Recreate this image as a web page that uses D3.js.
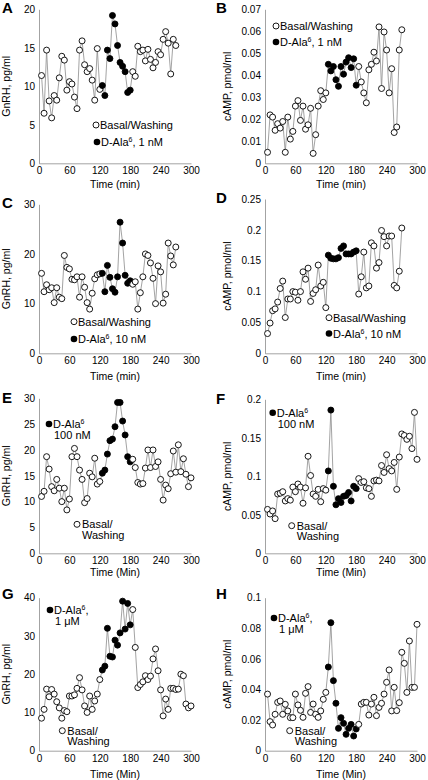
<!DOCTYPE html>
<html><head><meta charset="utf-8">
<script src="https://cdn.jsdelivr.net/npm/d3@7"></script>
<style>body{margin:0;background:#fff} svg{display:block;font-family:"Liberation Sans",Arial,sans-serif}</style>
</head><body><svg id="c" width="428" height="780"></svg>
<script>
// ---------- data ----------
const timeTicks = [0, 60, 120, 180, 240, 300];
const treatStart = 125, treatEnd = 180;     // D-Ala6 exposure window (min)
const timesShort = d3.range(5, 275, 5);     // sampling every 5 min, 5..270
const timesLong  = d3.range(5, 305, 5);     // sampling every 5 min, 5..300

const gnrhA = [11.4, 6.5, 14.7, 8.1, 5.9, 8.8, 8.2, 11.1, 13.9, 13.4, 9.5, 10.6, 10.3, 8.6, 7.1, 14.7, 15.9, 12.8, 11.9, 12.3, 10.8, 8.2, 14.9, 9.6,
  10.1, 8.8, 14.7, 13.6, 19.2, 18.1, 15.3, 13.1, 12.6, 11.9, 9.2, 9.5,
  11.9, 11.3, 15.2, 14.5, 14.7, 13.3, 14.8, 13.5, 12.4, 13.1, 14.5, 14.1, 16.1, 17.1, 15.6, 11.6, 16.1, 15.3];
const campB = [0.005, 0.022, 0.021, 0.015, 0.018, 0.016, 0.019, 0.005, 0.021, 0.011, 0.0145, 0.026, 0.0285, 0.0195, 0.026, 0.0155, 0.0175, 0.025, 0.0045, 0.013, 0.026, 0.033, 0.029, 0.032,
  0.045, 0.042, 0.044, 0.038, 0.035, 0.044, 0.0405, 0.046, 0.048, 0.0435, 0.0475, 0.0355,
  0.044, 0.037, 0.032, 0.0275, 0.0425, 0.045, 0.0505, 0.0465, 0.062, 0.034, 0.0597, 0.0515, 0.032, 0.043, 0.014, 0.0165, 0.0515, 0.0607];
const gnrhC = [16.1, 12.4, 13.8, 12.8, 13.2, 10.2, 13.2, 11.3, 11.0, 19.7, 17.3, 17.0, 14.9, 14.8, 15.4, 11.3, 15.4, 13.3, 10.2, 8.9, 12.1, 15.0, 15.8, 16.0,
  16.1, 12.4, 17.7, 15.3, 13.0, 12.3, 15.4, 26.4, 22.2, 15.7, 14.1, 14.6,
  13.9, 14.4, 8.9, 12.2, 15.4, 20.0, 19.7, 18.2, 15.1, 10.0, 17.6, 16.4, 10.1, 11.9, 22.2, 19.6, 17.8, 21.4];
const campD = [0.032, 0.049, 0.069, 0.072, 0.083, 0.105, 0.117, 0.058, 0.088, 0.088, 0.1, 0.099, 0.086, 0.1, 0.132, 0.12, 0.138, 0.084, 0.097, 0.103, 0.143, 0.109, 0.115, 0.074,
  0.159, 0.154, 0.153, 0.153, 0.155, 0.17, 0.174, 0.161, 0.161, 0.161, 0.164, 0.166,
  0.096, 0.124, 0.164, 0.106, 0.109, 0.179, 0.174, 0.138, 0.147, 0.199, 0.189, 0.174, 0.19, 0.19, 0.11, 0.106, 0.133, 0.203];
const gnrhE = [11.0, 12.0, 18.7, 16.3, 12.9, 12.1, 14.3, 12.6, 10.0, 12.6, 8.4, 10.5, 18.7, 20.3, 18.7, 16.1, 14.3, 9.8, 10.6, 15.5, 14.8, 18.4, 13.4, 13.9,
  15.5, 16.1, 19.2, 21.8, 22.1, 24.5, 29.2, 29.2, 25.6, 22.9, 18.7, 17.7,
  18.2, 16.6, 13.7, 13.4, 13.5, 16.5, 20.0, 16.6, 20.0, 16.8, 17.7, 14.3, 10.3, 13.2, 12.5, 15.4, 19.8, 15.7, 21.0, 15.8, 18.3, 15.3, 12.9, 14.6];
const campF = [0.057, 0.051, 0.055, 0.045, 0.077, 0.078, 0.080, 0.068, 0.071, 0.069, 0.086, 0.080, 0.090, 0.086, 0.065, 0.085, 0.126, 0.101, 0.077, 0.074, 0.083, 0.067, 0.084, 0.082,
  0.107, 0.186, 0.087, 0.063, 0.071, 0.066, 0.074, 0.075, 0.079, 0.068, 0.087, 0.084,
  0.097, 0.092, 0.093, 0.085, 0.084, 0.074, 0.094, 0.095, 0.094, 0.114, 0.105, 0.128, 0.110, 0.107, 0.118, 0.083, 0.125, 0.155, 0.153, 0.148, 0.152, 0.136, 0.183, 0.122];
const gnrhG = [8.5, 10.8, 16.1, 14.1, 16.0, 14.8, 12.8, 11.2, 8.5, 10.5, 10.2, 14.3, 14.3, 14.6, 16.3, 19.1, 15.9, 11.7, 10.0, 14.3, 10.8, 13.0, 14.8, 18.6,
  21.1, 22.1, 32.0, 24.7, 24.5, 28.9, 27.6, 30.8, 39.1, 31.8, 38.5, 32.9,
  36.9, 27.0, 16.5, 17.3, 18.0, 19.6, 18.6, 19.5, 24.0, 26.6, 20.9, 15.9, 9.1, 13.5, 10.8, 16.3, 16.3, 16.0, 16.1, 20.0, 19.6, 12.2, 11.2, 11.7];
const campH = [0.037, 0.019, 0.0168, 0.0238, 0.0316, 0.0325, 0.0238, 0.0303, 0.026, 0.0216, 0.0216, 0.037, 0.0299, 0.0264, 0.0218, 0.0375, 0.0419, 0.025, 0.0305, 0.0238, 0.0218, 0.026, 0.0336, 0.0381,
  0.0547, 0.0837, 0.0458, 0.031, 0.0146, 0.0216, 0.0179, 0.0107, 0.0146, 0.0172, 0.0096, 0.0142,
  0.0172, 0.0305, 0.0316, 0.0316, 0.0233, 0.0305, 0.0349, 0.0229, 0.0283, 0.031, 0.037, 0.0447, 0.0528, 0.026, 0.0414, 0.0262, 0.0314, 0.0643, 0.0571, 0.0381, 0.0717, 0.0414, 0.0414, 0.0826];

const ticksA = [0, 5, 10, 15, 20];
const ticksB = [0, 0.01, 0.02, 0.03, 0.04, 0.05, 0.06, 0.07];
const ticksC = [0, 10, 20, 30];
const ticksD = [0, 0.05, 0.1, 0.15, 0.2, 0.25];
const ticksE = [0, 5, 10, 15, 20, 25, 30];
const ticksF = [0, 0.05, 0.1, 0.15, 0.2];
const ticksG = [0, 10, 20, 30, 40];
const ticksH = [0, 0.02, 0.04, 0.06, 0.08, 0.1];

const doses = ["1 nM", "1 nM", "10 nM", "10 nM", "100 nM", "100 nM", "1 \u03bcM", "1 \u03bcM"];

// ---------- layout ----------
const cols = [[39, 191], [265, 417]];
const panels = [
  {id:"A", vals:gnrhA, t:timesShort, ticks:ticksA, yTitle:"GnRH, pg/ml", xTitle:"Time (min)", col:0, top:9.3, bot:163.3, lx:6, xty:188, leg:{kind:"row", o:[96,125], f:[97,142]}},
  {id:"B", vals:campB, t:timesShort, ticks:ticksB, yTitle:"cAMP, pmol/ml", xTitle:"Time (min)", col:1, top:9.3, bot:163.3, lx:227, xty:188, leg:{kind:"row", o:[276,26], f:[276,42]}},
  {id:"C", vals:gnrhC, t:timesShort, ticks:ticksC, yTitle:"GnRH, pg/ml", xTitle:"Time (min)", col:0, top:204.3, bot:353.3, lx:6, xty:380, leg:{kind:"row", o:[74,321.7], f:[74,339]}},
  {id:"D", vals:campD, t:timesShort, ticks:ticksD, yTitle:"cAMP, pmol/ml", xTitle:"Time (min)", col:1, top:199, bot:353.3, lx:227, xty:380, leg:{kind:"row", o:[329,317.7], f:[329,333.5]}},
  {id:"E", vals:gnrhE, t:timesLong, ticks:ticksE, yTitle:"GnRH, pg/ml", xTitle:"Time (Min)", col:0, top:398.3, bot:553.3, lx:6, xty:576, leg:{kind:"stack", o:[77,524.3], f:[49,424]}},
  {id:"F", vals:campF, t:timesLong, ticks:ticksF, yTitle:"cAMP, pmol/ml", xTitle:"Time (Min)", col:1, top:399.3, bot:553.3, lx:227, xty:576, leg:{kind:"stack", o:[291.7,525.7], f:[272.7,412.7]}},
  {id:"G", vals:gnrhG, t:timesLong, ticks:ticksG, yTitle:"GnRH, pg/ml", xTitle:"Time (Min)", col:0, top:597.7, bot:750.7, lx:6, xty:778, leg:{kind:"stack", o:[62.3,730.7], f:[50,610]}},
  {id:"H", vals:campH, t:timesLong, ticks:ticksH, yTitle:"cAMP, pmol/ml", xTitle:"Time (Min)", col:1, top:597.7, bot:750.7, lx:227, xty:778, leg:{kind:"stack", o:[289.7,730.7], f:[274,618]}}
];

const svg = d3.select("#c");
const R = 3;
const fmt = d => d === 0 ? "0" : String(d);

panels.forEach((p, i) => {
  const g = svg.append("g");
  const x = d3.scaleLinear().domain([0, 300]).range(cols[p.col]);
  const yMax = p.ticks[p.ticks.length - 1];
  const y = d3.scaleLinear().domain([0, yMax]).range([p.bot, p.top]);

  // axes
  const xa = g.append("g").attr("transform", `translate(0,${p.bot})`)
    .call(d3.axisBottom(x).tickValues(timeTicks).tickSize(0).tickPadding(4));
  const ya = g.append("g").attr("transform", `translate(${cols[p.col][0]},0)`)
    .call(d3.axisLeft(y).tickValues(p.ticks).tickFormat(fmt).tickSize(0).tickPadding(4));
  [xa, ya].forEach(a => {
    a.select(".domain").attr("stroke", "#8c8c8c").attr("stroke-width", 0.8);
    a.selectAll("text").attr("font-size", 10).attr("fill", "#000").attr("font-family", "Liberation Sans, Arial, sans-serif");
  });

  // titles
  g.append("text").attr("x", (cols[p.col][0] + cols[p.col][1]) / 2).attr("y", p.xty)
    .attr("text-anchor", "middle").attr("font-size", 10.5).text(p.xTitle);
  g.append("text").attr("transform", `translate(${p.lx + 4},${(p.top + p.bot) / 2}) rotate(-90)`)
    .attr("text-anchor", "middle").attr("font-size", 10.5).text(p.yTitle);
  g.append("text").attr("x", p.col ? 216 : 2).attr("y", p.top < 10 ? 13 : p.top - (p.top > 590 ? -0.5 : 0) + (p.id === "C" || p.id === "D" ? 4 : p.id === "E" || p.id === "F" ? 5 : 1))
    .attr("font-size", 15).attr("font-weight", "bold").text(p.id);

  // data
  const pts = p.vals.map((v, k) => ({t: p.t[k], v}));
  g.append("path").datum(pts)
    .attr("fill", "none").attr("stroke", "#8c8c8c").attr("stroke-width", 0.8)
    .attr("d", d3.line().x(d => x(d.t)).y(d => y(d.v)));
  g.selectAll("circle.pt").data(pts).join("circle").attr("class", "pt")
    .attr("cx", d => x(d.t)).attr("cy", d => y(d.v)).attr("r", R)
    .attr("fill", d => d.t >= treatStart && d.t <= treatEnd ? "#000" : "#fff")
    .attr("stroke", "#000").attr("stroke-width", 0.9);

  // legend
  const L = p.leg;
  const lg = g.append("g").attr("font-size", 11);
  lg.append("circle").attr("cx", L.o[0]).attr("cy", L.o[1]).attr("r", R).attr("fill", "#fff").attr("stroke", "#000").attr("stroke-width", 0.9);
  lg.append("circle").attr("cx", L.f[0]).attr("cy", L.f[1]).attr("r", R + 0.3).attr("fill", "#000");
  if (L.kind === "row") {
    lg.append("text").attr("x", L.o[0] + 4).attr("y", L.o[1] + 4).text("Basal/Washing");
    const t = lg.append("text").attr("x", L.f[0] + 4).attr("y", L.f[1] + 4);
    t.append("tspan").text("D-Ala");
    t.append("tspan").attr("font-size", 7).attr("dy", -4).text("6");
    t.append("tspan").attr("dy", 4).text(", " + doses[i]);
  } else {
    lg.append("text").attr("x", L.o[0] + 5).attr("y", L.o[1] + 4).text("Basal/");
    lg.append("text").attr("x", L.o[0] + 5).attr("y", L.o[1] + 14.5).text("Washing");
    const t = lg.append("text").attr("x", L.f[0] + 4).attr("y", L.f[1] + 4);
    t.append("tspan").text("D-Ala");
    t.append("tspan").attr("font-size", 7).attr("dy", -4).text("6");
    if (i >= 6) t.append("tspan").attr("dy", 4).text(",");
    lg.append("text").attr("x", L.f[0] + 5).attr("y", L.f[1] + 15).text(doses[i]);
  }
});
</script>
</body></html>
